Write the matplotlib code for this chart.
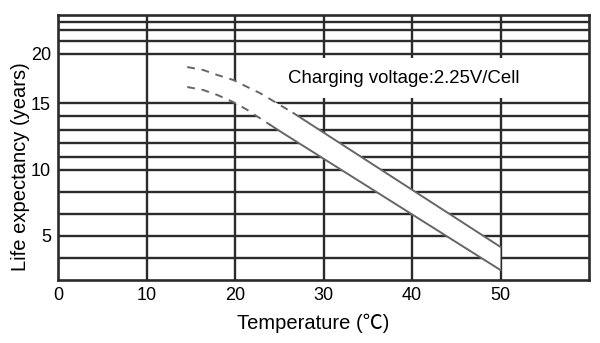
import numpy as np
import matplotlib.pyplot as plt

# y axis of the original chart is not uniform: years -> height above bottom (px)
yr_knots = [0, 5/3, 5, 10, 15, 20, 21, 22, 23, 24, 30]
pos_knots = [-22, 0, 44, 110, 177, 226, 239, 250, 258, 265, 307]

# grid lines (years / deg C)
hgrid = [10/3, 5, 20/3, 25/3, 10, 11, 12, 13, 14, 15, 20, 21, 22, 23]
vgrid = [10, 20, 30, 40, 50]

xticks = [0, 10, 20, 30, 40, 50]
yticks = [5, 10, 15, 20]

# upper curve: dashed part then solid part
up_dash_x = [14.6, 16.4, 18.0, 19.8, 21.4, 22.8, 24.7, 26.6]
up_dash_y = [18.67, 18.37, 17.86, 17.35, 16.63, 16.02, 15.0, 14.25]
up_sol_x = [26.6, 50]
up_sol_y = [14.25, 4.17]

# lower curve
lo_dash_x = [14.6, 16.4, 18.0, 19.8, 21.4, 22.6, 24.0]
lo_dash_y = [16.63, 16.33, 15.82, 15.1, 14.48, 13.96, 13.36]
lo_sol_x = [24.0, 25.4, 50]
lo_sol_y = [13.36, 12.76, 2.42]


def fwd(v):
    return np.interp(v, yr_knots, pos_knots)


def inv(v):
    return np.interp(v, pos_knots, yr_knots)


fig = plt.figure(figsize=(6, 3.43), dpi=100)
ax = fig.add_axes([58/600, 63/343, 531/600, 265/343])
ax.set_yscale('function', functions=(fwd, inv))
ax.set_xlim(0, 60)
ax.set_ylim(5/3, 24)

gc = '#2b2b2b'
for v in hgrid:
    ax.axhline(v, color=gc, lw=1.7, zorder=1)
for v in vgrid:
    ax.axvline(v, color=gc, lw=1.7, zorder=1)
for s in ax.spines.values():
    s.set_color(gc)
    s.set_linewidth(1.9)

# white band between the two curves
ux = up_dash_x + up_sol_x[1:]
uy = up_dash_y + up_sol_y[1:]
lx = lo_dash_x + lo_sol_x[1:]
ly = lo_dash_y + lo_sol_y[1:]
ax.fill(ux + lx[::-1], uy + ly[::-1], color='white', zorder=2, lw=0)

cc = '#666666'
ax.plot(up_dash_x, up_dash_y, color=cc, lw=1.4, dashes=(4, 3.5), zorder=3)
ax.plot(lo_dash_x, lo_dash_y, color=cc, lw=1.4, dashes=(4, 3.5), zorder=3)
ax.plot(up_sol_x, up_sol_y, color=cc, lw=1.4, zorder=3)
ax.plot(lo_sol_x, lo_sol_y, color=cc, lw=1.4, zorder=3)

ax.text(26.0, 17.55, 'Charging voltage:2.25V/Cell', fontsize=13.4,
        family=['Liberation Sans', 'DejaVu Sans'], va='center', ha='left',
        bbox=dict(facecolor='white', edgecolor='none', pad=8), zorder=4)

ax.set_xticks(xticks)
ax.set_yticks(yticks)
ax.set_xticklabels([str(v) for v in xticks], family='Liberation Sans', fontsize=13)
ax.set_yticklabels([str(v) for v in yticks], family='Liberation Sans', fontsize=13)
ax.tick_params(length=0, pad=5)

ax.set_xlabel('Temperature (℃)', family=['Liberation Sans', 'Noto Sans CJK SC'],
              fontsize=14.5)
ax.xaxis.set_label_coords((313 - 58) / 531, -(323 - 280) / 265)
ax.xaxis.label.set_va('center')
ax.set_ylabel('Life expectancy (years)', family='Liberation Sans', fontsize=14.5)
ax.yaxis.set_label_coords(-(58 - 30) / 531, (280 - 167) / 265)

fig.savefig('out.png', dpi=100)
